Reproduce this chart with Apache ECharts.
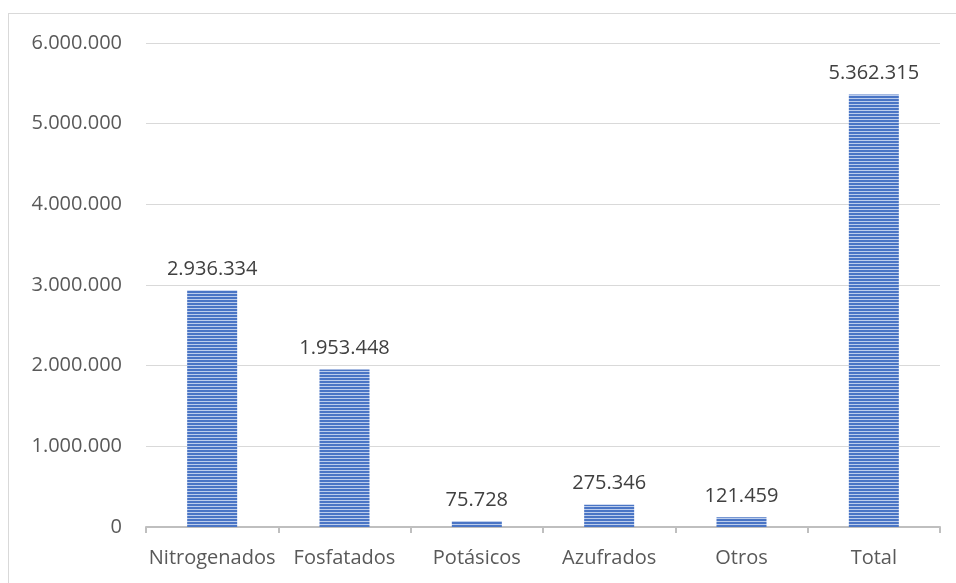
<!DOCTYPE html>
<html>
<head>
<meta charset="utf-8">
<script src="https://cdn.jsdelivr.net/npm/echarts@6/dist/echarts.min.js"></script>
<style>
  html, body { margin: 0; padding: 0; background: #fff; }
  #frame { position: absolute; left: 8px; top: 13px; width: 960px; height: 580px; border-left: 1px solid #d9d9d9; border-top: 1px solid #d9d9d9; }
  #chart { position: absolute; left: 0; top: 0; width: 956px; height: 583px; }
</style>
</head>
<body>
<div id="frame"></div>
<div id="chart"></div>
<script>
// categorías y valores (toneladas)
const categories = ['Nitrogenados', 'Fosfatados', 'Potásicos', 'Azufrados', 'Otros', 'Total'];
const values = [2936334, 1953448, 75728, 275346, 121459, 5362315];

// textura rayada de las barras
function stripePattern() {
  const c = document.createElement('canvas');
  c.width = 4; c.height = 3;
  const ctx = c.getContext('2d');
  ctx.fillStyle = '#4a75c5';
  ctx.fillRect(0, 0, 4, 3);
  ctx.fillStyle = '#bccdec';
  ctx.fillRect(0, 2, 4, 1);
  return c;
}

const fmt = v => String(v).replace(/\B(?=(\d{3})+(?!\d))/g, '.');

const chart = echarts.init(document.getElementById('chart'));
const font = '"Open Sans", Lato, sans-serif';

chart.setOption({
  animation: false,
  grid: { left: 146, right: 16, top: 43, bottom: 56 },
  xAxis: {
    type: 'category',
    data: categories,
    axisLine: { lineStyle: { color: '#bfbfbf', width: 2 } },
    axisTick: { show: true, length: 6, lineStyle: { color: '#bfbfbf', width: 2 } },
    axisLabel: { color: '#595959', fontSize: 20, fontFamily: font, margin: 21, interval: 0 }
  },
  yAxis: {
    type: 'value',
    min: 0, max: 6000000, interval: 1000000,
    axisLine: { show: false },
    axisTick: { show: false },
    splitLine: { lineStyle: { color: '#d9d9d9', width: 1 } },
    axisLabel: { color: '#595959', fontSize: 20, fontFamily: font, margin: 24, formatter: fmt }
  },
  series: [{
    type: 'bar',
    data: values,
    barWidth: 50,
    itemStyle: { color: { image: stripePattern(), repeat: 'repeat' } },
    label: {
      show: true, position: 'top', distance: 11,
      color: '#404040', fontSize: 20, fontFamily: font,
      formatter: p => fmt(p.value)
    }
  }]
});
</script>
</body>
</html>
